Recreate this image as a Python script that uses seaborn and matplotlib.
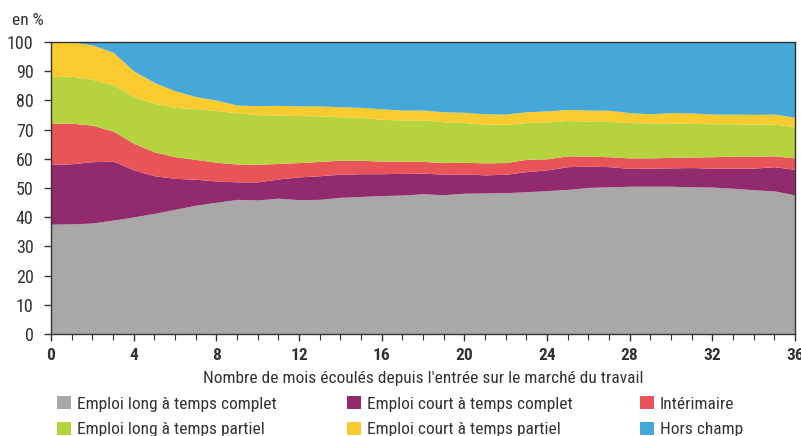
import numpy as np
import matplotlib
matplotlib.use("Agg")
import matplotlib.pyplot as plt
from matplotlib.patches import Patch
from matplotlib.ticker import MultipleLocator
import seaborn as sns

# months since entry on the labour market
months = list(range(0, 37))

# shares in %
long_complet = [37.6, 37.7, 38.0, 39.0, 40.1, 41.3, 42.7, 44.1, 45.1, 46.1, 45.9, 46.5, 46.0,
                46.1, 46.8, 47.1, 47.4, 47.6, 48.0, 47.7, 48.2, 48.3, 48.4, 48.7, 49.1, 49.5,
                50.2, 50.4, 50.6, 50.6, 50.6, 50.4, 50.3, 49.9, 49.4, 49.0, 47.6]
court_complet = [20.5, 20.6, 21.0, 20.2, 16.1, 12.9, 10.6, 8.9, 7.3, 6.0, 6.2, 6.6, 7.8,
                 8.1, 7.9, 7.8, 7.5, 7.4, 7.1, 7.0, 6.6, 6.2, 6.3, 6.9, 7.1, 7.8,
                 7.3, 6.9, 6.1, 6.2, 6.3, 6.6, 6.5, 6.9, 7.4, 8.3, 8.8]
interimaire = [14.1, 13.9, 12.5, 10.3, 9.1, 8.2, 7.4, 6.8, 6.4, 6.1, 6.0, 5.3, 4.9,
               4.9, 4.8, 4.6, 4.3, 4.2, 4.0, 4.0, 4.0, 4.1, 4.0, 4.2, 3.8, 3.7,
               3.4, 3.4, 3.6, 3.5, 3.6, 3.6, 3.9, 4.1, 4.1, 3.7, 3.9]
long_partiel = [15.9, 16.1, 15.7, 15.8, 16.0, 16.6, 16.9, 17.4, 17.7, 17.6, 17.0, 16.6, 16.1,
                15.6, 14.9, 14.7, 14.3, 14.1, 14.2, 14.0, 13.6, 13.3, 13.1, 12.6, 12.6, 12.1,
                12.0, 12.1, 12.1, 12.0, 11.8, 11.5, 11.3, 11.1, 11.0, 10.9, 10.6]
court_partiel = [11.9, 11.7, 11.8, 11.2, 8.8, 7.1, 5.7, 4.1, 3.6, 2.6, 3.1, 3.3, 3.3,
                 3.4, 3.4, 3.4, 3.6, 3.4, 3.4, 3.4, 3.5, 3.5, 3.5, 3.7, 3.8, 3.8,
                 3.8, 3.8, 3.4, 3.1, 3.5, 3.6, 3.3, 3.3, 3.3, 3.4, 3.3]
hors_champ = [0.0, 0.0, 1.0, 3.5, 9.9, 13.9, 16.7, 18.7, 19.9, 21.6, 21.8, 21.7, 21.9,
              21.9, 22.2, 22.4, 22.9, 23.3, 23.3, 23.9, 24.1, 24.6, 24.7, 23.9, 23.6, 23.1,
              23.3, 23.4, 24.2, 24.6, 24.2, 24.3, 24.7, 24.7, 24.8, 24.7, 25.8]

labels = ["Emploi long à temps complet", "Emploi court à temps complet", "Intérimaire",
          "Emploi long à temps partiel", "Emploi court à temps partiel", "Hors champ"]
colors = ["#A9A7A8", "#922B6E", "#E85457", "#B5D23F", "#F9CB2F", "#45A8D9"]

sns.set_style("ticks")
plt.rcParams['font.family'] = ['Roboto Condensed', 'DejaVu Sans']
text_color = "#333333"
fs = 12.5

fig = plt.figure(figsize=(8.01, 4.36), dpi=100)
ax = fig.add_axes([0.0637, 0.234, 0.9288, 0.6697])

ax.stackplot(months, long_complet, court_complet, interimaire, long_partiel,
             court_partiel, hors_champ, colors=colors, linewidth=0)

ax.set_xlim(0, 36)
ax.set_ylim(0, 100)
ax.xaxis.set_major_locator(MultipleLocator(4))
ax.xaxis.set_minor_locator(MultipleLocator(1))
ax.yaxis.set_major_locator(MultipleLocator(10))
ax.tick_params(axis="both", which="major", length=5, width=1, color="#333333",
               labelcolor=text_color)
ax.tick_params(axis="x", which="major", labelsize=fs, pad=5)
ax.tick_params(axis="y", which="major", labelsize=13, pad=7.5)
ax.tick_params(axis="x", which="minor", length=4, width=0.8, color="#333333")
for lab in ax.get_xticklabels():
    lab.set_fontweight("semibold")
for s in ax.spines.values():
    s.set_color("#333333")
    s.set_linewidth(1)

ax.set_xlabel("Nombre de mois écoulés depuis l'entrée sur le marché du travail",
              fontsize=fs, color=text_color, labelpad=6)
fig.text(0.015, 0.953, "en %", fontsize=fs, color=text_color, va="center")

# legend: three columns of two entries, each placed where the reference has it
col_x = [0.0715, 0.4335, 0.799]
for c, x in enumerate(col_x):
    idx = [c, c + 3]
    handles = [Patch(facecolor=colors[i], edgecolor="none") for i in idx]
    fig.legend(handles, [labels[i] for i in idx], loc="upper left",
               bbox_to_anchor=(x, 0.091), frameon=False, fontsize=fs,
               labelcolor=text_color, handlelength=0.78, handleheight=0.78,
               handletextpad=0.35, labelspacing=0.56, borderaxespad=0, borderpad=0)

fig.savefig("out.png", dpi=100)
